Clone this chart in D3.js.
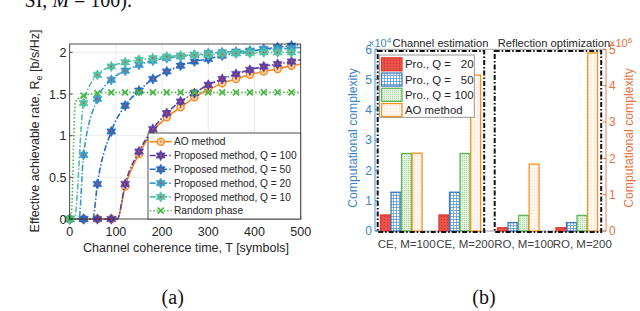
<!DOCTYPE html>
<html>
<head>
<meta charset="utf-8">
<script src="https://cdn.jsdelivr.net/npm/d3@7"></script>
<style>
  body { margin: 0; background: #fff; }
  svg { display: block; }
  text { font-family: "Liberation Sans", Arial, sans-serif; fill: #262626; }
  .serif { font-family: "Liberation Serif", "Times New Roman", serif; fill: #111; }
</style>
</head>
<body>
<script>
// ---- panel (a): effective achievable rate vs coherence time ----
var aoT      = [0, 30, 60, 90, 103, 120, 150, 180, 210, 240, 270, 300, 330, 360, 390, 420, 450, 480, 500];
var aoRate   = [0, 0, 0, 0, 0, 0.39, 0.78, 1.05, 1.22, 1.34, 1.46, 1.55, 1.63, 1.68, 1.73, 1.77, 1.80, 1.84, 1.86];
var q100T    = [0, 30, 60, 90, 103, 120, 150, 180, 210, 240, 270, 300, 330, 360, 390, 420, 450, 480, 500];
var q100Rate = [0, 0, 0, 0, 0, 0.42, 0.81, 1.08, 1.27, 1.41, 1.51, 1.61, 1.68, 1.74, 1.79, 1.83, 1.86, 1.89, 1.91];
var q50T     = [0, 30, 50, 60, 90, 120, 150, 180, 210, 240, 270, 300, 330, 360, 390, 420, 450, 480, 500];
var q50Rate  = [0, 0, 0, 0.42, 1.05, 1.36, 1.54, 1.68, 1.77, 1.84, 1.89, 1.92, 1.96, 1.99, 2.01, 2.04, 2.06, 2.08, 2.09];
var q20T     = [0, 20, 30, 60, 90, 120, 150, 180, 210, 240, 270, 300, 330, 360, 390, 420, 450, 480, 500];
var q20Rate  = [0, 0, 0.77, 1.44, 1.67, 1.78, 1.85, 1.90, 1.93, 1.95, 1.97, 1.99, 2.00, 2.01, 2.02, 2.03, 2.04, 2.05, 2.06];
var q10T     = [0, 10, 30, 60, 90, 120, 150, 180, 210, 240, 270, 300, 330, 360, 390, 420, 450, 480, 500];
var q10Rate  = [0, 0, 1.39, 1.73, 1.83, 1.88, 1.91, 1.93, 1.95, 1.96, 1.97, 1.97, 1.98, 1.99, 1.99, 2.00, 2.00, 2.00, 2.00];
var rndT     = [0, 3, 12, 30, 60, 90, 120, 150, 180, 210, 240, 270, 300, 330, 360, 390, 420, 450, 480, 500];
var rndRate  = [0, 0, 1.40, 1.48, 1.51, 1.52, 1.52, 1.52, 1.52, 1.52, 1.52, 1.52, 1.52, 1.52, 1.52, 1.52, 1.52, 1.52, 1.52, 1.52];
var rateTicksX = [0, 100, 200, 300, 400, 500];
var rateTicksY = [0, 0.5, 1, 1.5, 2];

// ---- panel (b): computational complexity (CE in 1e4, RO in 1e6) ----
var cxCategories = ["CE, M=100", "CE, M=200", "RO, M=100", "RO, M=200"];
var cxSeries     = ["Q20", "Q50", "Q100", "AO"];
var cxLegendText = ["Pro., Q =", "Pro., Q =", "Pro., Q =", "AO method"];
var cxLegendQ    = ["20", "50", "100", ""];
var q20Cx  = [0.53, 0.53, 0.09, 0.09];
var q50Cx  = [1.28, 1.28, 0.23, 0.23];
var q100Cx = [2.56, 2.56, 0.43, 0.43];
var aoCx   = [2.57, 5.15, 1.84, 4.90];
var leftTicks  = [0, 1, 2, 3, 4, 5, 6];
var rightTicks = [0, 1, 2, 3, 4, 5];

var width = 640, height = 311;
var svg = d3.select('body').append('svg')
  .attr('width', width).attr('height', height);
svg.append('rect').attr('width', width).attr('height', height).attr('fill', '#fff');

// caption fragment cut off at the top
var cap = svg.append('text').attr('class', 'serif')
  .attr('x', 132).attr('y', 7).attr('text-anchor', 'end').style('font-size', '20px');
cap.append('tspan').text('SI, ');
cap.append('tspan').style('font-style', 'italic').text('M');
cap.append('tspan').text(' = 100).');

// ================= panel (a) =================
var x = d3.scaleLinear().domain([0, 500]).range([69.7, 300.7]);
var y = d3.scaleLinear().domain([0, 2.1]).range([219, 44]);

var ga = svg.append('g');
// grid
ga.selectAll('.gx').data(rateTicksX).enter().append('line')
  .attr('x1', d => x(d)).attr('x2', d => x(d)).attr('y1', y(0)).attr('y2', y(2.1))
  .attr('stroke', '#e6e6e6').attr('stroke-width', 0.8);
ga.selectAll('.gy').data(rateTicksY).enter().append('line')
  .attr('x1', x(0)).attr('x2', x(500)).attr('y1', d => y(d)).attr('y2', d => y(d))
  .attr('stroke', '#e6e6e6').attr('stroke-width', 0.8);

function hexagram(R) {
  var pts = [];
  for (var k = 0; k < 12; k++) {
    var a = -Math.PI / 2 + k * Math.PI / 6;
    var r = k % 2 ? R * 0.577 : R;
    pts.push([r * Math.cos(a), r * Math.sin(a)]);
  }
  return 'M' + pts.map(p => p[0].toFixed(2) + ',' + p[1].toFixed(2)).join('L') + 'Z';
}

var series = [
  {name: 'AO method', t: aoT, v: aoRate, color: '#f5881f', dash: null, marker: 'circle'},
  {name: 'Proposed method, Q = 100', t: q100T, v: q100Rate, color: '#5b3fa3', dash: '6,2,1.5,2', marker: 'star'},
  {name: 'Proposed method, Q = 50', t: q50T, v: q50Rate, color: '#2a6cc0', dash: '6,2,1.5,2', marker: 'star'},
  {name: 'Proposed method, Q = 20', t: q20T, v: q20Rate, color: '#3a9bc8', dash: '6,2,1.5,2', marker: 'star'},
  {name: 'Proposed method, Q = 10', t: q10T, v: q10Rate, color: '#52c2a5', dash: '6,2,1.5,2', marker: 'star'},
  {name: 'Random phase', t: rndT, v: rndRate, color: '#4cb849', dash: '1.5,2', marker: 'x'}
];

var line = d3.line().x(d => x(d[0])).y(d => y(d[1])).curve(d3.curveMonotoneX);

function drawMarker(g, s, cx, cy) {
  if (s.marker === 'circle') {
    g.append('circle').attr('cx', cx).attr('cy', cy).attr('r', 3.6)
      .attr('fill', '#fbd0a0').attr('stroke', s.color).attr('stroke-width', 1.3);
    g.append('circle').attr('cx', cx).attr('cy', cy).attr('r', 0.9).attr('fill', '#e5702a');
  } else if (s.marker === 'star') {
    g.append('path').attr('d', hexagram(5.2)).attr('transform', 'translate(' + cx + ',' + cy + ')')
      .attr('fill', s.color).attr('stroke', s.color).attr('stroke-width', 0.6);
    g.append('circle').attr('cx', cx).attr('cy', cy).attr('r', 0.9).attr('fill', '#e8413c');
  } else {
    g.append('path').attr('d', 'M-3,-3L3,3M-3,3L3,-3').attr('transform', 'translate(' + cx + ',' + cy + ')')
      .attr('stroke', s.color).attr('stroke-width', 1.8).attr('fill', 'none');
  }
}

series.forEach(function(s) {
  var pts = s.t.map((t, i) => [t, s.v[i]]);
  ga.append('path').datum(pts).attr('d', line)
    .attr('fill', 'none').attr('stroke', s.color).attr('stroke-width', 1.6)
    .attr('stroke-dasharray', s.dash);
  var gm = ga.append('g');
  pts.filter(p => p[0] % 30 === 0).forEach(p => drawMarker(gm, s, x(p[0]), y(p[1])));
});

// box and ticks
ga.append('rect').attr('x', x(0)).attr('y', y(2.1)).attr('width', x(500) - x(0)).attr('height', y(0) - y(2.1))
  .attr('fill', 'none').attr('stroke', '#262626').attr('stroke-width', 0.8);
ga.selectAll('.tx').data(rateTicksX).enter().append('line')
  .attr('x1', d => x(d)).attr('x2', d => x(d)).attr('y1', y(0)).attr('y2', y(0) - 3)
  .attr('stroke', '#262626').attr('stroke-width', 0.8);
ga.selectAll('.ty').data(rateTicksY).enter().append('line')
  .attr('x1', x(0)).attr('x2', x(0) + 3).attr('y1', d => y(d)).attr('y2', d => y(d))
  .attr('stroke', '#262626').attr('stroke-width', 0.8);
ga.selectAll('.lx').data(rateTicksX).enter().append('text')
  .attr('x', d => x(d)).attr('y', 236).attr('text-anchor', 'middle')
  .style('font-size', '12.5px').text(d => d);
ga.selectAll('.ly').data(rateTicksY).enter().append('text')
  .attr('x', 66.5).attr('y', d => y(d) + 4.5).attr('text-anchor', 'end')
  .style('font-size', '12.5px').text(d => d);

ga.append('text').attr('x', 186).attr('y', 252).attr('text-anchor', 'middle')
  .style('font-size', '12.5px').text('Channel coherence time, T [symbols]');
var yl = ga.append('text').attr('transform', 'translate(39,131) rotate(-90)')
  .attr('text-anchor', 'middle').style('font-size', '12.5px');
yl.append('tspan').text('Effective achievable rate, R');
yl.append('tspan').attr('dy', 3).style('font-size', '9px').text('e');
yl.append('tspan').attr('dy', -3).text(' [b/s/Hz]');

// legend (a)
var la = ga.append('g');
la.append('rect').attr('x', 148).attr('y', 133).attr('width', x(500) - 148).attr('height', y(0) - 133)
  .attr('fill', '#fff').attr('stroke', '#262626').attr('stroke-width', 0.8);
series.forEach(function(s, i) {
  var ry = 141.7 + i * 13.8;
  la.append('line').attr('x1', 149.7).attr('x2', 171.7).attr('y1', ry).attr('y2', ry)
    .attr('stroke', s.color).attr('stroke-width', 1.6).attr('stroke-dasharray', s.dash);
  drawMarker(la, s, 160.7, ry);
  la.append('text').attr('x', 174).attr('y', ry + 3.6).style('font-size', '10.2px').text(s.name);
});

svg.append('text').attr('class', 'serif').attr('x', 172.7).attr('y', 304)
  .attr('text-anchor', 'middle').style('font-size', '20px').text('(a)');

// ================= panel (b) =================
var xb = d3.scaleBand().domain(cxCategories).range([372, 606]);
var xs = d3.scaleBand().domain(cxSeries).range([-20.8, 20.8]).paddingInner(0.06);
var yL = d3.scaleLinear().domain([0, 6]).range([231, 49.3]);
var yR = d3.scaleLinear().domain([0, 5]).range([231, 49.3]);
var axL = 375, axR = 606;
var blue = '#3b86c6', orange = '#e8703f';

var defs = svg.append('defs');
var pr = defs.append('pattern').attr('id', 'pRed').attr('patternUnits', 'userSpaceOnUse').attr('width', 3).attr('height', 3);
pr.append('rect').attr('width', 3).attr('height', 3).attr('fill', '#ea5149');
pr.append('rect').attr('width', 1).attr('height', 1).attr('fill', '#c9362f');
var pb = defs.append('pattern').attr('id', 'pBlue').attr('patternUnits', 'userSpaceOnUse').attr('width', 3).attr('height', 3);
pb.append('rect').attr('width', 3).attr('height', 3).attr('fill', '#fff');
pb.append('rect').attr('width', 3).attr('height', 0.8).attr('fill', '#5f97d0');
pb.append('rect').attr('width', 0.8).attr('height', 3).attr('fill', '#5f97d0');
var pg = defs.append('pattern').attr('id', 'pGreen').attr('patternUnits', 'userSpaceOnUse').attr('width', 2).attr('height', 2);
pg.append('rect').attr('width', 2).attr('height', 2).attr('fill', '#e3f3df');
pg.append('rect').attr('width', 1).attr('height', 1).attr('fill', '#a6d99e');
var po = defs.append('pattern').attr('id', 'pOrange').attr('patternUnits', 'userSpaceOnUse').attr('width', 3).attr('height', 3);
po.append('rect').attr('width', 3).attr('height', 3).attr('fill', '#fff7f0');
po.append('rect').attr('width', 1).attr('height', 1).attr('fill', '#fbdcc2');

var barStyle = {
  Q20:  {fill: 'url(#pRed)', stroke: '#e23d33'},
  Q50:  {fill: 'url(#pBlue)', stroke: '#3a78c0'},
  Q100: {fill: 'url(#pGreen)', stroke: '#5cb85a'},
  AO:   {fill: 'url(#pOrange)', stroke: '#f7931e'}
};
var cxValues = {Q20: q20Cx, Q50: q50Cx, Q100: q100Cx, AO: aoCx};

var gb = svg.append('g');
// top and bottom frame
gb.append('line').attr('x1', axL).attr('x2', axR).attr('y1', yL(6)).attr('y2', yL(6)).attr('stroke', '#8c8c8c').attr('stroke-width', 0.8);
gb.append('line').attr('x1', axL).attr('x2', axR).attr('y1', yL(0)).attr('y2', yL(0)).attr('stroke', '#8c8c8c').attr('stroke-width', 0.8);

cxSeries.forEach(function(s) {
  cxCategories.forEach(function(c, i) {
    var ys = i < 2 ? yL : yR;
    var v = cxValues[s][i];
    gb.append('rect')
      .attr('x', xb(c) + xb.bandwidth() / 2 + xs(s))
      .attr('y', ys(v))
      .attr('width', xs.bandwidth())
      .attr('height', ys(0) - ys(v))
      .attr('fill', barStyle[s].fill).attr('stroke', barStyle[s].stroke).attr('stroke-width', 1.3);
  });
});

// dash-dot group boxes
[[0, 1], [2, 3]].forEach(function(pair) {
  var x0 = xb(cxCategories[pair[0]]) + 5.7;
  var x1 = xb(cxCategories[pair[1]]) + xb.bandwidth() - 4.8;
  gb.append('rect').attr('x', x0).attr('y', 51).attr('width', x1 - x0).attr('height', 181)
    .attr('fill', 'none').attr('stroke', '#111').attr('stroke-width', 2).attr('stroke-dasharray', '5,2,1.5,2');
});

// axes
gb.append('line').attr('x1', axL).attr('x2', axL).attr('y1', yL(0)).attr('y2', yL(6)).attr('stroke', blue).attr('stroke-width', 0.9);
gb.append('line').attr('x1', axR).attr('x2', axR).attr('y1', yR(0)).attr('y2', yR(5)).attr('stroke', orange).attr('stroke-width', 0.9);
gb.selectAll('.tl').data(leftTicks).enter().append('line')
  .attr('x1', axL).attr('x2', axL + 3).attr('y1', d => yL(d)).attr('y2', d => yL(d)).attr('stroke', blue);
gb.selectAll('.tr').data(rightTicks).enter().append('line')
  .attr('x1', axR).attr('x2', axR - 3).attr('y1', d => yR(d)).attr('y2', d => yR(d)).attr('stroke', orange);
gb.selectAll('.ll').data(leftTicks).enter().append('text')
  .attr('x', 372).attr('y', d => yL(d) + 4.3).attr('text-anchor', 'end')
  .style('font-size', '12px').style('fill', blue).text(d => d);
gb.selectAll('.lr').data(rightTicks).enter().append('text')
  .attr('x', 609).attr('y', d => yR(d) + 4.3)
  .style('font-size', '12px').style('fill', orange).text(d => d);

var e4 = gb.append('text').attr('x', 368).attr('y', 47).style('font-size', '11px').style('fill', blue);
e4.append('tspan').text('×10');
e4.append('tspan').attr('dy', -4).style('font-size', '8px').text('4');
var e6 = gb.append('text').attr('x', 609).attr('y', 47).style('font-size', '11px').style('fill', orange);
e6.append('tspan').text('×10');
e6.append('tspan').attr('dy', -4).style('font-size', '8px').text('6');

gb.append('text').attr('x', 440.5).attr('y', 47).attr('text-anchor', 'middle').style('font-size', '11.2px').text('Channel estimation');
gb.append('text').attr('x', 554).attr('y', 47).attr('text-anchor', 'middle').style('font-size', '11.2px').text('Reflection optimization');

gb.selectAll('.cl').data(cxCategories).enter().append('text')
  .attr('x', d => xb(d) + xb.bandwidth() / 2 + 5.5).attr('y', 248).attr('text-anchor', 'middle')
  .style('font-size', '11.5px').style('fill', '#404040').text(d => d);

gb.append('text').attr('transform', 'translate(357,138) rotate(-90)').attr('text-anchor', 'middle')
  .style('font-size', '12.2px').style('fill', blue).text('Computational complexity');
gb.append('text').attr('transform', 'translate(633,138) rotate(-90)').attr('text-anchor', 'middle')
  .style('font-size', '12.2px').style('fill', orange).text('Computational complexity');

// legend (b)
var lb = gb.append('g');
lb.append('rect').attr('x', 379.3).attr('y', 55).attr('width', 95).attr('height', 62.3)
  .attr('fill', '#fff').attr('stroke', '#8c8c8c').attr('stroke-width', 0.9);
cxSeries.forEach(function(s, i) {
  var ry = 64.3 + i * 15.25;
  lb.append('rect').attr('x', 381.5).attr('y', ry - 6.5).attr('width', 20.5).attr('height', 13)
    .attr('fill', barStyle[s].fill).attr('stroke', barStyle[s].stroke).attr('stroke-width', 1.3);
  lb.append('text').attr('x', 405).attr('y', ry + 4).style('font-size', '11.4px').text(cxLegendText[i]);
  lb.append('text').attr('x', 473.5).attr('y', ry + 4).attr('text-anchor', 'end').style('font-size', '11.4px').text(cxLegendQ[i]);
});

svg.append('text').attr('class', 'serif').attr('x', 484).attr('y', 304)
  .attr('text-anchor', 'middle').style('font-size', '20px').text('(b)');
</script>
</body>
</html>
